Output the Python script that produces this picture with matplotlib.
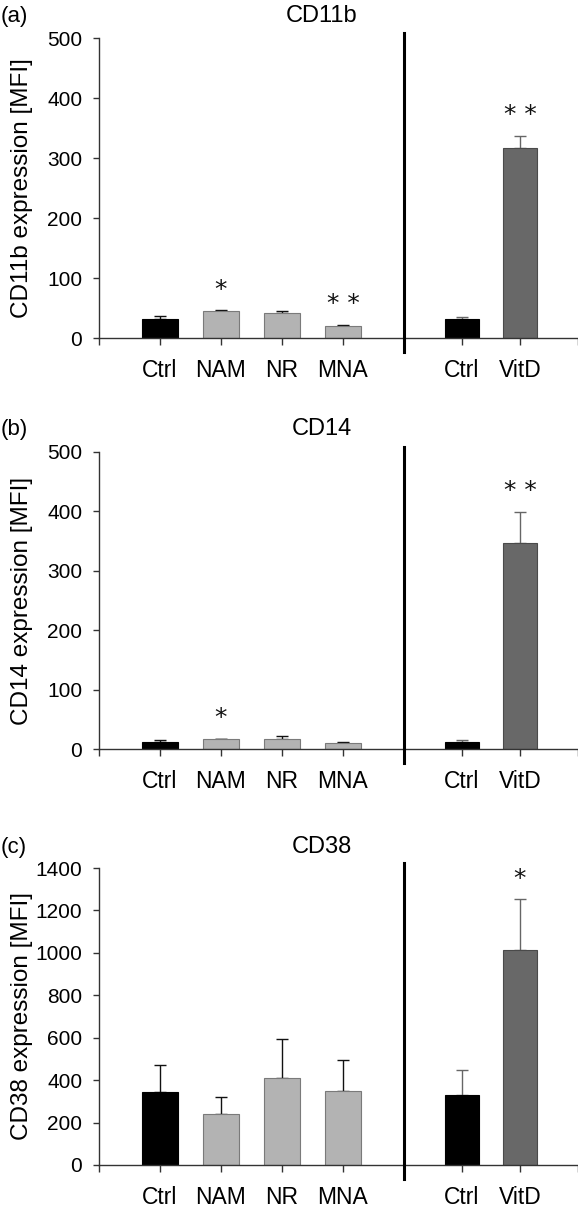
import matplotlib
matplotlib.use("Agg")
import matplotlib.pyplot as plt
import numpy as np

plt.rcParams['font.family'] = ['Liberation Sans', 'DejaVu Sans']

# ---------------- data ----------------
groups_left = ['Ctrl', 'NAM', 'NR', 'MNA']
groups_right = ['Ctrl', 'VitD']

markers = ['CD11b', 'CD14', 'CD38']
panel_labels = ['(a)', '(b)', '(c)']

cd11b_left = [32, 45, 41, 20]
cd11b_left_err = [4, 1, 4, 2]
cd11b_right = [31, 316]
cd11b_right_err = [4, 21]

cd14_left = [13, 17, 18, 11]
cd14_left_err = [3, 1, 5, 1]
cd14_right = [13, 346]
cd14_right_err = [3, 53]

cd38_left = [345, 242, 412, 350]
cd38_left_err = [125, 77, 180, 146]
cd38_right = [331, 1015]
cd38_right_err = [117, 237]

cd11b_left_sig = ['', '*', '', '* *']
cd11b_right_sig = ['', '* *']
cd14_left_sig = ['', '*', '', '']
cd14_right_sig = ['', '* *']
cd38_left_sig = ['', '', '', '']
cd38_right_sig = ['', '*']

y_max = [500, 500, 1400]
y_step = [100, 100, 200]

# ---------------- style ----------------
W, H = 578, 1209
DPI = 100
fig = plt.figure(figsize=(W / DPI, H / DPI), dpi=DPI)

left_colors = ['#000000', '#b3b3b3', '#b3b3b3', '#b3b3b3']
left_edges = ['#000000', '#7a7a7a', '#7a7a7a', '#7a7a7a']
right_colors = ['#000000', '#686868']
right_edges = ['#000000', '#4a4a4a']
spine_col = '#333333'

# pixel geometry (top, bottom of axes) per panel
panel_px = [(38, 338), (451.7, 749.3), (868, 1165)]
title_base_px = [22, 435, 853]
x0, xdiv, x1 = 99, 404, 578

data = [
    (cd11b_left, cd11b_left_err, cd11b_right, cd11b_right_err, cd11b_left_sig, cd11b_right_sig),
    (cd14_left, cd14_left_err, cd14_right, cd14_right_err, cd14_left_sig, cd14_right_sig),
    (cd38_left, cd38_left_err, cd38_right, cd38_right_err, cd38_left_sig, cd38_right_sig),
]


def style_axis(ax):
    ax.spines['top'].set_visible(False)
    ax.spines['right'].set_visible(False)
    for s in ['left', 'bottom']:
        ax.spines[s].set_color(spine_col)
        ax.spines[s].set_linewidth(1.0)
    ax.tick_params(axis='both', direction='out', color=spine_col, width=1.0)
    ax.tick_params(axis='x', length=5, pad=10, labelsize=16.5)
    ax.tick_params(axis='y', length=4, pad=8, labelsize=15)


for i in range(3):
    top, bot = panel_px[i]
    lv, le, rv, re_, ls, rs = data[i]
    y0 = 1 - bot / H
    h = (bot - top) / H
    axl = fig.add_axes([x0 / W, y0, (xdiv - x0) / W, h])
    axr = fig.add_axes([xdiv / W, y0, (x1 - xdiv) / W, h], sharey=axl)

    xl = np.arange(1, len(groups_left) + 1)
    xr = np.arange(1, len(groups_right) + 1)

    axl.bar(xl, lv, width=0.58, color=left_colors, edgecolor=left_edges, linewidth=0.8, zorder=2)
    axl.errorbar(xl, lv, yerr=[np.zeros(len(lv)), le], fmt='none', ecolor='#111111',
                 elinewidth=1.0, capsize=4, capthick=1.0, zorder=1)
    axr.bar(xr, rv, width=0.6, color=right_colors, edgecolor=right_edges, linewidth=0.8, zorder=2)
    axr.errorbar(xr, rv, yerr=[np.zeros(len(rv)), re_], fmt='none', ecolor='#666666',
                 elinewidth=1.0, capsize=4, capthick=1.0, zorder=1)

    for ax, xs, vals, errs, sig in [(axl, xl, lv, le, ls), (axr, xr, rv, re_, rs)]:
        for x, v, e, s in zip(xs, vals, errs, sig):
            if s:
                ax.annotate(s, xy=(x, v + e), xytext=(0, 10), textcoords='offset points',
                            ha='center', va='baseline', fontsize=18,
                            family=['DejaVu Sans'], color='#111111', annotation_clip=False)

    axl.set_xlim(0, 5)
    axr.set_xlim(0, 3)
    axl.set_ylim(0, y_max[i])
    axl.set_yticks(np.arange(0, y_max[i] + 1, y_step[i]))
    axl.set_xticks(np.arange(0, 6))
    axl.set_xticklabels([''] + groups_left + [''])
    axr.set_xticks(np.arange(0, 4))
    axr.set_xticklabels([''] + groups_right + [''])

    style_axis(axl)
    style_axis(axr)
    axr.spines['left'].set_visible(False)
    axr.tick_params(axis='y', left=False, labelleft=False)
    axr.patch.set_alpha(0)

    axl.set_ylabel(markers[i] + ' expression [MFI]', fontsize=17.5)
    axl.yaxis.set_label_coords((33 - x0) / (xdiv - x0), 0.5)

    # divider line
    axr.plot([0, 0], [-14 / (bot - top), 1 + 5 / (bot - top)], transform=axr.transAxes,
             color='black', linewidth=2.2, clip_on=False, zorder=5)

    fig.text(322 / W, 1 - title_base_px[i] / H, markers[i], ha='center', va='baseline', fontsize=17)
    fig.text(1 / W, 1 - title_base_px[i] / H, panel_labels[i], ha='left', va='baseline', fontsize=16)

fig.savefig('out.png', dpi=DPI)
